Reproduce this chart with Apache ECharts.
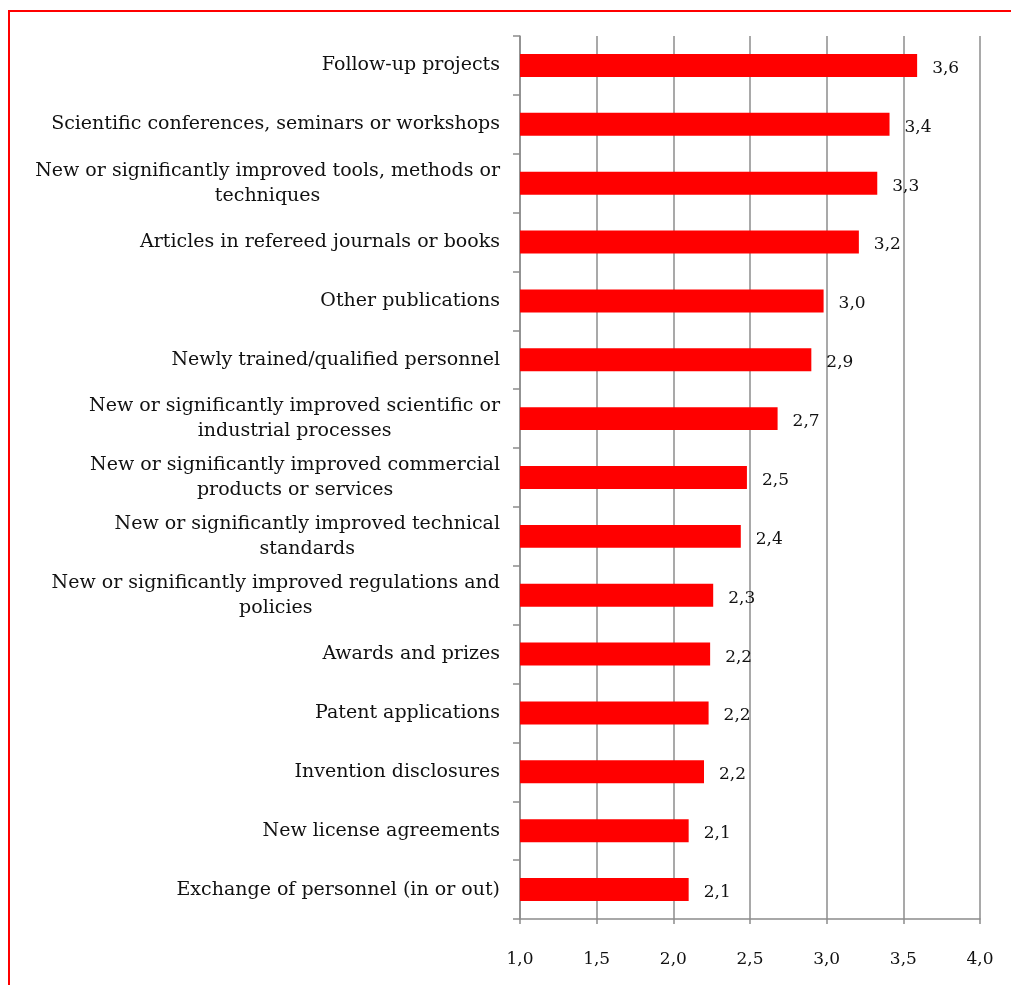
<!DOCTYPE html>
<html>
<head>
<meta charset="utf-8">
<script src="https://cdn.jsdelivr.net/npm/echarts@6/dist/echarts.min.js"></script>
<style>
  html, body { margin: 0; padding: 0; background: #fff; }
  #chart { width: 1011px; height: 985px; }
</style>
</head>
<body>
<div id="chart"></div>
<script>
// Outcome categories, listed top to bottom
const categories = [
  'Follow-up projects',
  'Scientific conferences, seminars or workshops',
  'New or significantly improved tools, methods or\ntechniques',
  'Articles in refereed journals or books',
  'Other publications',
  'Newly trained/qualified personnel',
  'New or significantly improved scientific or\nindustrial processes',
  'New or significantly improved commercial\nproducts or services',
  'New or significantly improved technical\nstandards',
  'New or significantly improved regulations and\npolicies',
  'Awards and prizes',
  'Patent applications',
  'Invention disclosures',
  'New license agreements',
  'Exchange of personnel (in or out)'
];

// Mean scores for each category
const scores = [3.59, 3.41, 3.33, 3.21, 2.98, 2.90, 2.68, 2.48, 2.44, 2.26, 2.24, 2.23, 2.20, 2.10, 2.10];

// Scale ticks on the value axis
const tickMin = 1.0;
const tickMax = 4.0;
const tickStep = 0.5;

const fmt = v => v.toFixed(1).replace('.', ',');
const font = 'DejaVu Serif';

const chart = echarts.init(document.getElementById('chart'), null, { renderer: 'canvas' });

chart.setOption({
  animation: false,
  backgroundColor: '#ffffff',
  graphic: [{
    type: 'rect',
    shape: { x: 9, y: 11, width: 1020, height: 1000 },
    style: { fill: 'none', stroke: '#ff0000', lineWidth: 2 },
    silent: true
  }],
  grid: { left: 520, right: 31, top: 36, bottom: 66, containLabel: false },
  xAxis: {
    type: 'value',
    min: tickMin,
    max: tickMax,
    interval: tickStep,
    axisLine: { show: true, lineStyle: { color: '#8c8c8c', width: 1.5 } },
    axisTick: { show: true, length: 5, lineStyle: { color: '#8c8c8c', width: 1.5 } },
    splitLine: { show: true, lineStyle: { color: '#8c8c8c', width: 1.5 } },
    axisLabel: {
      margin: 32,
      fontFamily: font,
      fontSize: 17,
      color: '#111',
      formatter: v => fmt(v)
    }
  },
  yAxis: {
    type: 'category',
    inverse: true,
    data: categories,
    axisLine: { show: true, lineStyle: { color: '#8c8c8c', width: 1.5 } },
    axisTick: { show: true, length: 7, lineStyle: { color: '#8c8c8c', width: 1.5 } },
    axisLabel: {
      margin: 20,
      align: 'right',
      // each wrapped line is centred within its label block
      formatter: v => v.split('\n').map(s => '{c|' + s + '}').join('\n'),
      rich: {
        c: {
          align: 'center',
          fontFamily: font,
          fontSize: 19,
          lineHeight: 25,
          color: '#111'
        }
      }
    }
  },
  series: [{
    type: 'bar',
    data: scores,
    barWidth: '39%',
    itemStyle: { color: '#ff0000' },
    label: {
      show: true,
      position: 'right',
      distance: 15,
      offset: [0, 3],
      fontFamily: font,
      fontSize: 17,
      color: '#111',
      formatter: p => fmt(p.value)
    }
  }]
});
</script>
</body>
</html>
